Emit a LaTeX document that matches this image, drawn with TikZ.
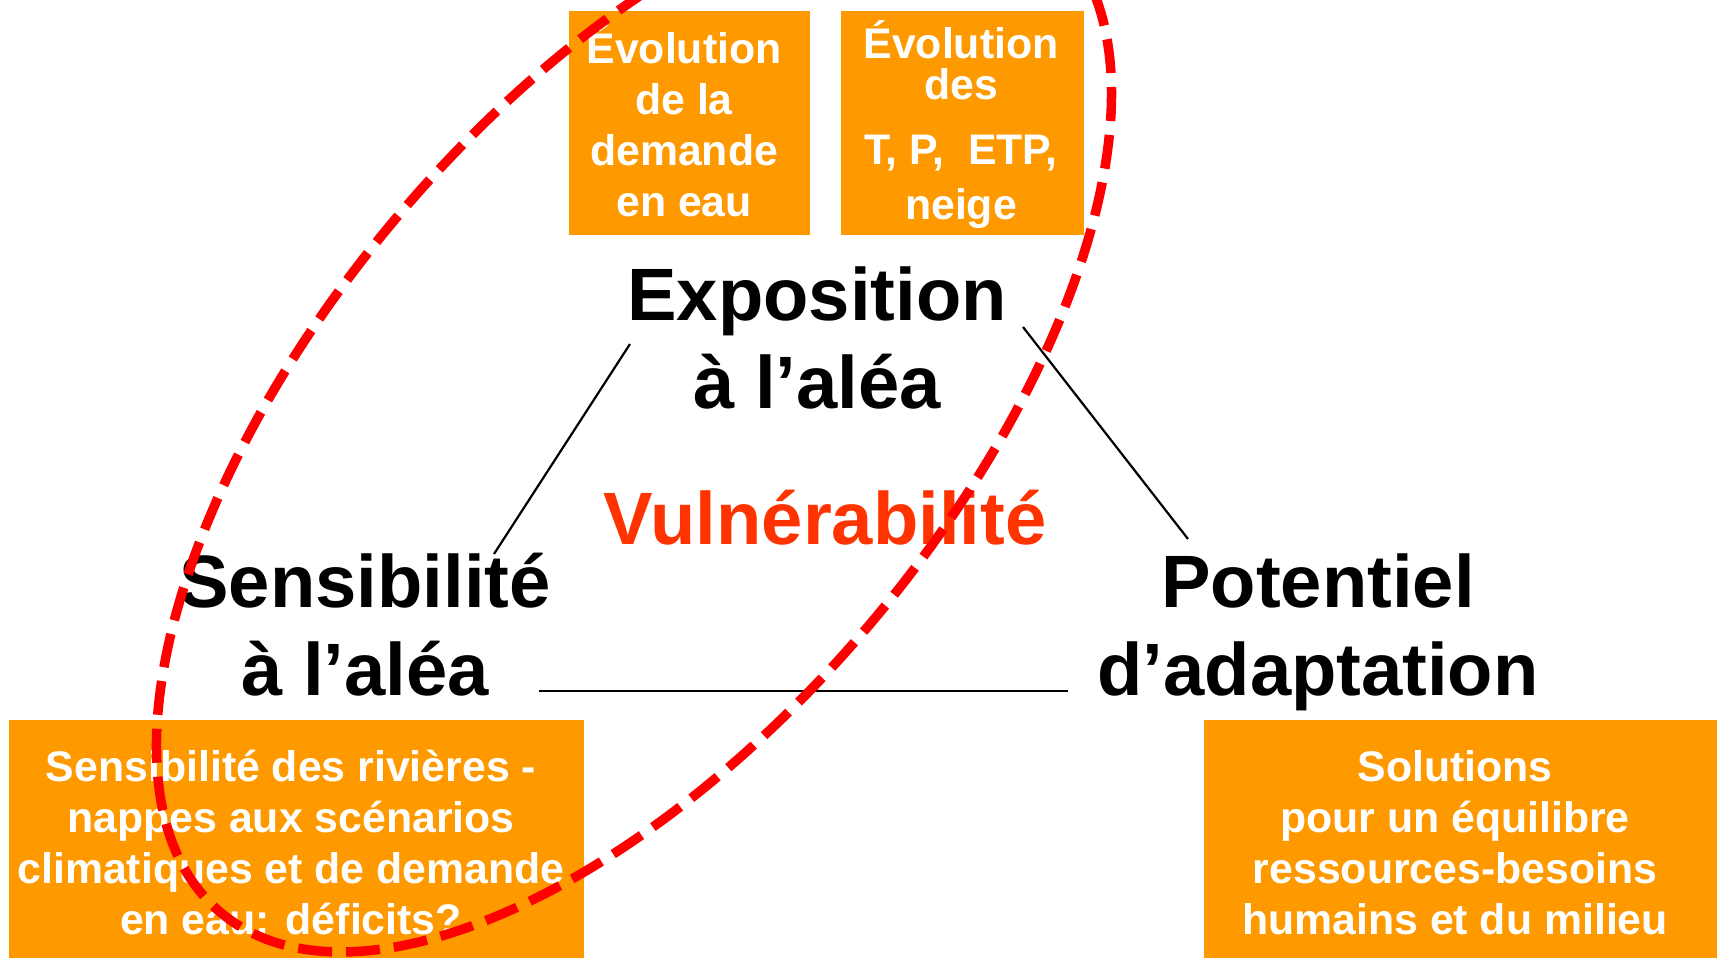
\documentclass[tikz,border=0pt]{standalone}
\usepackage{fontspec}
\setmainfont{Liberation Sans}
\definecolor{boxorange}{HTML}{FF9900}
\definecolor{vulred}{HTML}{FF3300}
\definecolor{ringred}{HTML}{FF0000}
\begin{document}
\begin{tikzpicture}[x=1pt,y=-1pt,
  obox/.style={fill=boxorange, draw=none},
  btext/.style={text=white, font=\bfseries\fontsize{42.8}{51}\selectfont, align=center, anchor=base, inner sep=0pt},
  big/.style={font=\bfseries\fontsize{74.2}{88}\selectfont, align=center, anchor=base, inner sep=0pt},
  link/.style={draw=black, line width=2.2pt},
  ring/.style={draw=ringred, line width=9.5pt, dash pattern=on 34pt off 14pt}]
\useasboundingbox (0,0) rectangle (1717,958);
\fill[white] (0,0) rectangle (1717,958);
% boxes
\path[obox] (569,11) rectangle (810,235);
\path[obox] (841,11) rectangle (1084,235);
\path[obox] (9,720) rectangle (584,958);
\path[obox] (1204,720) rectangle (1717,958);
\node[btext] (dem) at (684,216) {Évolution\\de la\\demande\\en eau};
\node[btext] (clim) at (961,219) {Évolution\\[-10pt]des\\[14pt]T, P,\ \ ETP,\\[4pt]neige};
\node[btext] (riv) at (291,934) {Sensibilité des rivières -\\nappes aux scénarios\\climatiques et de demande\\en eau: déficits?};
\node[btext] (sol) at (1455,934) {Solutions\\pour un équilibre\\ressources-besoins\\humains et du milieu};
% main labels
\node[big] (expo) at (817,408) {Exposition\\à l’aléa};
\node[big] (sens) at (365,695) {Sensibilité\\à l’aléa};
\node[big] (pot) at (1318,695) {Potentiel\\d’adaptation};
\node[big, text=vulred] (vul) at (825,544) {Vulnérabilité};
% connectors
\coordinate (eL) at (630,344); \coordinate (sT) at (494,554);
\coordinate (eR) at (1023,327); \coordinate (pT) at (1188,539);
\coordinate (sR) at (539,691); \coordinate (pL) at (1068,691);
\draw[link] (eL) -- (sT);
\draw[link] (eR) -- (pT);
\draw[link] (sR) -- (pL);
% dashed ellipse
\coordinate (ec) at (634,420);
\draw[ring, rotate around={50:(ec)}] (ec) ellipse [x radius=643pt, y radius=312pt];
\end{tikzpicture}
\end{document}
